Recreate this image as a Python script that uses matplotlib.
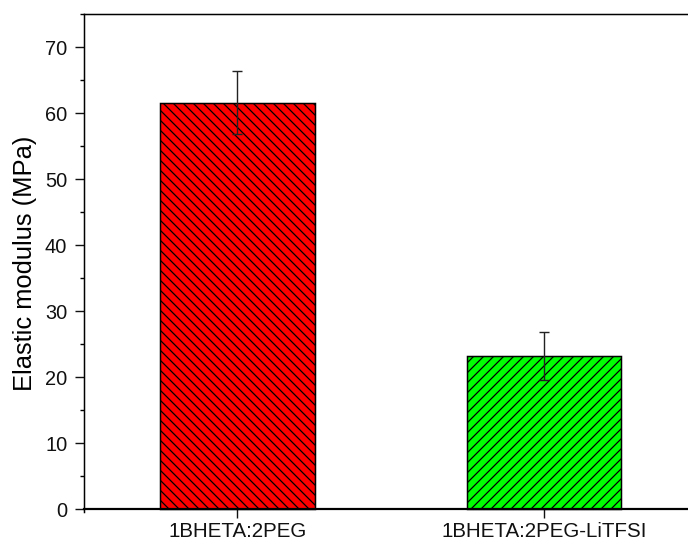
import matplotlib
matplotlib.use("Agg")
import matplotlib.pyplot as plt
from matplotlib.ticker import MultipleLocator

# data
samples = ["1BHETA:2PEG", "1BHETA:2PEG-LiTFSI"]
modulus = [61.6, 23.2]
modulus_err = [4.8, 3.6]
bar_colors = ["#ff0000", "#00ff00"]
bar_hatches = ["\\\\\\\\", "////"]

DPI = 120
PX = 72 / DPI  # pixels -> points

plt.rcParams["font.family"] = ["Liberation Sans", "DejaVu Sans"]
plt.rcParams["hatch.linewidth"] = 0.75
plt.rcParams["hatch.color"] = "black"

fig = plt.figure(figsize=(688 / DPI, 548 / DPI), dpi=DPI)
ax = fig.add_axes([0.1225, 0.0651, 0.8906, 0.9088])

x = list(range(len(samples)))
for i in x:
    ax.bar(i, modulus[i], width=0.503, color=bar_colors[i], edgecolor="black",
           linewidth=1.5 * PX, hatch=bar_hatches[i], zorder=2)
ax.errorbar(x, modulus, yerr=modulus_err, fmt="none", ecolor="#222222",
            elinewidth=1.4 * PX, capsize=5 * PX, capthick=1.4 * PX, zorder=3)

ax.set_xlim(-0.5, 1.5)
ax.set_xticks(x)
ax.set_xticklabels(samples)
ax.yaxis.set_major_locator(MultipleLocator(10))
ax.yaxis.set_minor_locator(MultipleLocator(5))
ax.set_ylim(-0.5, 75)
ax.set_ylabel("Elastic modulus (MPa)", fontsize=25.5 * PX, labelpad=8 * PX)

ax.spines["bottom"].set_position(("data", 0))
ax.spines["bottom"].set_linewidth(2.2 * PX)
ax.spines["left"].set_linewidth(1.5 * PX)
ax.spines["top"].set_linewidth(1.5 * PX)
ax.spines["right"].set_visible(False)

ax.tick_params(axis="y", which="major", direction="out", length=9 * PX,
               width=1.4 * PX, labelsize=20 * PX, pad=8 * PX, colors="#111111")
ax.tick_params(axis="y", which="minor", direction="out", length=4 * PX,
               width=1.4 * PX)
ax.tick_params(axis="x", which="major", direction="out", length=9 * PX,
               width=1.4 * PX, pad=4 * PX, labelsize=20.5 * PX, colors="#111111")
ax.tick_params(axis="x", which="minor", bottom=False)

fig.savefig("out.png", dpi=DPI)
